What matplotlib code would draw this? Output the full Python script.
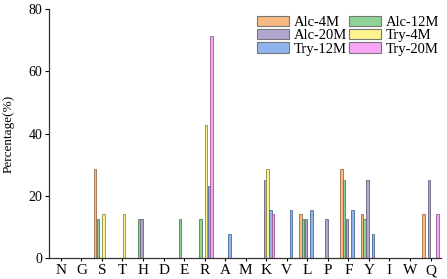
import numpy as np
import matplotlib
matplotlib.use("Agg")
import matplotlib.pyplot as plt

plt.rcParams['font.family'] = ['Liberation Serif', 'DejaVu Serif']

categories = ['N', 'G', 'S', 'T', 'H', 'D', 'E', 'R', 'A', 'M',
              'K', 'V', 'L', 'P', 'F', 'Y', 'I', 'W', 'Q']

#                 N  G  S      T      H     D  E     R      A     M  K      V      L      P     F      Y      I  W  Q
alc_4m  = [0, 0, 28.57, 0,     0,    0, 0,    0,     0,    0, 0,     0,     14.29, 0,    28.57, 14.29, 0, 0, 14.29]
alc_12m = [0, 0, 12.5,  0,     12.5, 0, 12.5, 12.5,  0,    0, 0,     0,     12.5,  0,    25.0,  12.5,  0, 0, 0]
alc_20m = [0, 0, 0,     0,     12.5, 0, 0,    0,     0,    0, 25.0,  0,     12.5,  12.5, 12.5,  25.0,  0, 0, 25.0]
try_4m  = [0, 0, 14.29, 14.29, 0,    0, 0,    42.86, 0,    0, 28.57, 0,     0,     0,    0,     0,     0, 0, 0]
try_12m = [0, 0, 0,     0,     0,    0, 0,    23.08, 7.69, 0, 15.38, 15.38, 15.38, 0,    15.38, 7.69,  0, 0, 0]
try_20m = [0, 0, 0,     0,     0,    0, 0,    71.43, 0,    0, 14.29, 0,     0,     0,    0,     0,     0, 0, 14.29]

series = {
    'Alc-4M': alc_4m,
    'Alc-12M': alc_12m,
    'Alc-20M': alc_20m,
    'Try-4M': try_4m,
    'Try-12M': try_12m,
    'Try-20M': try_20m,
}
colors = {
    'Alc-4M': '#f9b984',
    'Alc-12M': '#8fd394',
    'Alc-20M': '#b2a6cf',
    'Try-4M': '#fdf48e',
    'Try-12M': '#8fb4ee',
    'Try-20M': '#f8a6f4',
}
edges = {
    'Alc-4M': '#9a6a4a',
    'Alc-12M': '#4f7f55',
    'Alc-20M': '#6a6480',
    'Try-4M': '#8f8a55',
    'Try-12M': '#4f6a9a',
    'Try-20M': '#9a5a98',
}

fig = plt.figure(figsize=(4.47, 2.79), dpi=100)
ax = fig.add_axes([0.11, 0.075, 0.877, 0.893])

x = np.arange(len(categories))
w = 0.136
for i, (name, vals) in enumerate(series.items()):
    ax.bar(x + (i - 2.5) * w, vals, w * 0.88, color=colors[name],
           edgecolor=edges[name], linewidth=0.6, label=name)

ax.set_xlim(-0.57, 18.52)
ax.set_ylim(0, 80)
ax.set_yticks([0, 20, 40, 60, 80])
ax.set_xticks(x)
ax.set_xticklabels(categories, fontsize=11)
ax.tick_params(axis='y', labelsize=10, length=3, width=0.8, pad=2)
ax.tick_params(axis='x', direction='out', length=2.5, width=0.8, pad=2)
ax.set_ylabel('Percentage(%)', fontsize=9.5)
ax.yaxis.set_label_coords(-0.088, 0.5)
for s in ['top', 'right']:
    ax.spines[s].set_visible(False)
for s in ['left', 'bottom']:
    ax.spines[s].set_linewidth(0.9)
    ax.spines[s].set_color('#333333')

# legend fills column by column
order = ['Alc-4M', 'Alc-20M', 'Try-12M', 'Alc-12M', 'Try-4M', 'Try-20M']
handles = []
for name in order:
    h = plt.Rectangle((0, 0), 1, 1, facecolor=colors[name], edgecolor='#777777', linewidth=0.8)
    handles.append(h)
fig.legend(handles, order, ncol=2, frameon=False, fontsize=10.5,
           loc='upper left', bbox_to_anchor=(257 / 447, 1 - 16 / 279),
           handlelength=2.2, handleheight=0.7, handletextpad=0.35,
           columnspacing=0.1, labelspacing=0.0, borderpad=0, borderaxespad=0)

fig.savefig('out.png', dpi=100)
